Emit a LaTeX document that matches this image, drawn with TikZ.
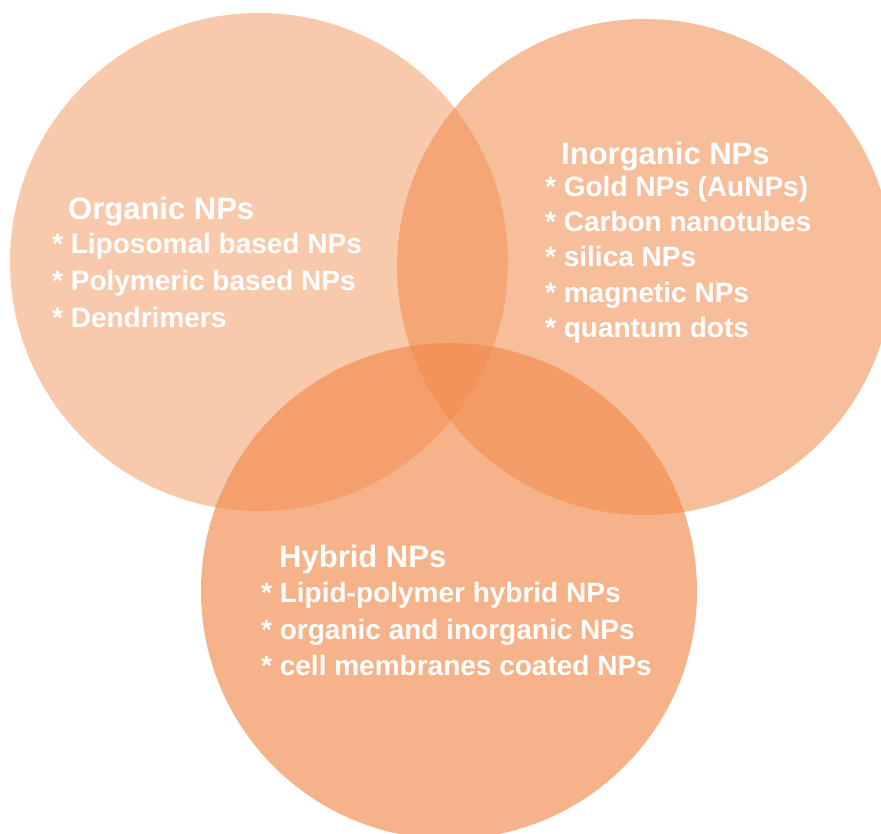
\documentclass[tikz,border=0pt]{standalone}
\usepackage{fontspec}
\setmainfont{Liberation Sans}
\definecolor{npOrange}{RGB}{241,137,74}
\begin{document}
\begin{tikzpicture}[x=1pt,y=-1pt,
  blob/.style={fill=npOrange, draw=none},
  head/.style={anchor=base west, text=white, inner sep=0pt,
    font=\bfseries\fontsize{31}{36}\selectfont},
  item/.style={anchor=base west, text=white, inner sep=0pt,
    font=\bfseries\fontsize{28}{34}\selectfont}]
\useasboundingbox (0,0) rectangle (881,834);
\clip (0,0) rectangle (881,834);

% three overlapping translucent discs
\fill[blob, fill opacity=0.46] (259,262) circle[radius=249];
\fill[blob, fill opacity=0.55] (645,267) circle[radius=248];
\fill[blob, fill opacity=0.65] (449,591) circle[radius=248];

% organic
\node[head] (orgH) at (68,220) {Organic NPs};
\node[item] (org1) at (52,253.5) {* Liposomal based NPs};
\node[item] (org2) at (52,290.5) {* Polymeric based NPs};
\node[item] (org3) at (52,327.5) {* Dendrimers};

% inorganic
\node[head] (inoH) at (561,164.5) {Inorganic NPs};
\node[item] (ino1) at (545,197) {* Gold NPs (AuNPs)};
\node[item] (ino2) at (545,232) {* Carbon nanotubes};
\node[item] (ino3) at (545,267) {* silica NPs};
\node[item] (ino4) at (545,302.5) {* magnetic NPs};
\node[item] (ino5) at (545,337.5) {* quantum dots};

% hybrid
\node[head] (hybH) at (279,567.5) {Hybrid NPs};
\node[item] (hyb1) at (261,602.5) {* Lipid-polymer hybrid NPs};
\node[item] (hyb2) at (261,639) {* organic and inorganic NPs};
\node[item] (hyb3) at (261,675.5) {* cell membranes coated NPs};
\end{tikzpicture}
\end{document}
